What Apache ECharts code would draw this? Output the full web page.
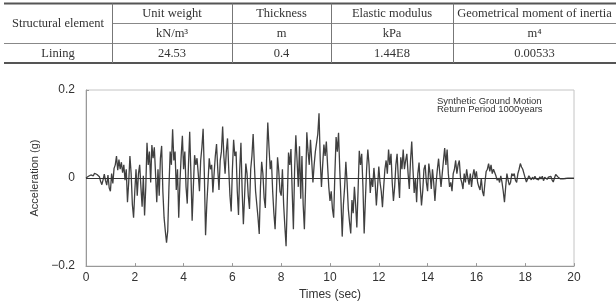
<!DOCTYPE html>
<html>
<head>
<meta charset="utf-8">
<script src="https://cdn.jsdelivr.net/npm/echarts@6/dist/echarts.min.js"></script>
<style>html,body{margin:0;padding:0;background:#fff;}#c{width:616px;height:306px;}</style>
</head>
<body>
<div id="c"></div>
<script>
// ---- Table data ----
const tableHeaders = ['Structural element', 'Unit weight', 'Thickness', 'Elastic modulus', 'Geometrical moment of inertia'];
const tableUnits = ['kN/m\u00B3', 'm', 'kPa', 'm\u2074'];
const tableRow = ['Lining', '24.53', '0.4', '1.44E8', '0.00533'];

// ---- Chart data ----
const xTicks = [0, 2, 4, 6, 8, 10, 12, 14, 16, 18, 20];
const yTicks = [-0.2, 0, 0.2];
const legendLines = ['Synthetic Ground Motion', 'Return Period 1000years'];
const xTitle = 'Times (sec)';
const yTitle = 'Acceleration (g)';
const timeStep = 0.05; // sec between samples
const acceleration = [
  // 0 s
  0.000, 0.002, 0.004, 0.001, 0.007, 0.003, 0.005, 0.011, 0.014, 0.008, 0.012, 0.003, -0.008, -0.015, -0.004, 0.009, -0.006, -0.016, 0.007, -0.022,
  // 1 s
  -0.030, 0.010, -0.012, 0.022, 0.030, 0.050, 0.018, 0.042, 0.020, 0.036, 0.012, 0.030, -0.005, 0.020, -0.055, -0.010, 0.050, 0.010, -0.060, -0.090,
  // 2 s
  -0.030, 0.020, -0.040, 0.010, 0.030, -0.020, -0.065, 0.005, -0.085, -0.020, 0.080, 0.030, 0.060, -0.010, 0.075, 0.045, 0.070, 0.010, -0.055, 0.020,
  // 3 s
  -0.040, 0.045, 0.073, -0.030, -0.090, -0.120, -0.147, -0.120, -0.020, 0.060, 0.030, 0.111, 0.040, 0.060, -0.027, 0.020, -0.090, -0.010, 0.050, 0.096,
  // 4 s
  0.020, 0.060, -0.020, -0.058, 0.030, 0.105, 0.010, -0.097, -0.020, 0.052, 0.030, 0.045, 0.010, -0.030, 0.040, 0.070, 0.112, 0.010, -0.130, -0.060,
  // 5 s
  -0.010, 0.045, 0.020, 0.030, -0.033, 0.010, 0.050, 0.077, 0.020, -0.027, 0.040, 0.060, 0.117, 0.050, 0.010, 0.060, 0.090, 0.020, -0.040, -0.076,
  // 6 s
  0.020, 0.087, 0.050, 0.060, -0.030, -0.084, 0.020, 0.080, -0.030, -0.105, -0.040, 0.033, 0.010, -0.040, -0.070, 0.020, 0.050, 0.100, 0.030, -0.030,
  // 7 s
  -0.060, -0.090, -0.127, -0.020, 0.037, 0.010, -0.045, -0.068, 0.040, 0.126, 0.070, 0.020, 0.040, -0.030, -0.080, -0.116, -0.040, 0.047, 0.016, -0.030,
  // 8 s
  -0.040, 0.020, -0.060, -0.110, -0.155, -0.050, 0.058, 0.030, 0.066, -0.030, -0.116, 0.020, 0.097, 0.040, -0.020, 0.072, -0.047, 0.050, -0.060, -0.116,
  // 9 s
  -0.020, 0.104, 0.060, 0.030, 0.087, 0.040, -0.010, 0.030, 0.060, 0.080, 0.100, 0.147, 0.040, -0.020, 0.030, 0.076, 0.050, 0.083, 0.030, -0.020,
  // 10 s
  -0.052, -0.030, -0.070, -0.090, 0.010, 0.093, 0.060, 0.103, 0.020, -0.050, -0.133, -0.060, -0.020, 0.037, -0.010, -0.070, -0.100, -0.126, -0.050, -0.080,
  // 11 s
  -0.020, -0.060, -0.112, -0.030, 0.062, 0.030, 0.055, -0.020, -0.126, -0.050, 0.020, 0.065, 0.030, -0.034, 0.000, -0.020, 0.023, -0.010, -0.062, -0.020,
  // 12 s
  0.026, -0.010, -0.030, -0.066, -0.020, 0.020, 0.040, 0.010, 0.065, 0.030, 0.055, -0.010, -0.052, -0.020, 0.030, 0.055, 0.000, -0.045, 0.047, 0.020,
  // 13 s
  0.065, 0.020, 0.040, 0.055, 0.010, -0.025, 0.040, 0.083, 0.020, -0.034, 0.000, -0.055, 0.010, 0.035, -0.020, -0.062, -0.030, 0.020, 0.030, -0.010,
  // 14 s
  -0.030, 0.033, 0.010, -0.025, 0.020, -0.010, -0.052, -0.010, 0.020, 0.044, 0.010, -0.020, 0.010, 0.040, 0.068, 0.030, 0.065, 0.010, -0.020, -0.010,
  // 15 s
  -0.030, 0.010, 0.020, 0.040, 0.010, 0.030, 0.040, 0.000, -0.010, -0.025, 0.010, -0.010, 0.020, 0.000, -0.015, 0.010, -0.020, 0.005, 0.020, 0.000,
  // 16 s
  0.015, -0.010, -0.020, -0.027, 0.000, -0.030, -0.041, -0.010, 0.015, 0.020, 0.033, 0.015, 0.030, 0.010, 0.020, 0.023, 0.005, -0.005, 0.000, -0.010,
  // 17 s
  0.005, -0.010, -0.030, -0.055, -0.020, 0.010, -0.005, -0.016, -0.010, 0.010, 0.005, 0.010, -0.005, -0.010, 0.010, 0.020, 0.033, 0.025, 0.020, 0.010,
  // 18 s
  0.000, -0.009, -0.005, 0.005, 0.003, -0.004, 0.002, -0.003, 0.004, -0.002, 0.001, -0.004, 0.003, -0.002, 0.004, -0.006, 0.002, 0.004, -0.003, 0.002,
  // 19 s
  0.001, 0.004, -0.004, -0.009, 0.000, 0.008, 0.006, 0.002, 0.004, -0.002, 0.002, -0.002, 0.001, -0.001, 0.001, 0.000, 0.001, 0.000, 0.000, 0.000,
  // 20 s
  0.000
];

// ---- Build ----
const seriesData = acceleration.map((v, i) => [+(i * timeStep).toFixed(2), v]);

const serif = '"Liberation Serif", "Times New Roman", serif';
const sans = '"Liberation Sans", Arial, sans-serif';
const tableColor = '#333';
const colX = [4, 112, 232, 331, 453, 616];
const rowY = [3.5, 23.5, 43.5, 63];

const graphics = [];
function hline(x1, x2, y, w, c) {
  graphics.push({type: 'line', silent: true, shape: {x1: x1, y1: y, x2: x2, y2: y}, style: {stroke: c, lineWidth: w}});
}
function vline(x, y1, y2) {
  graphics.push({type: 'line', silent: true, shape: {x1: x, y1: y1, x2: x, y2: y2}, style: {stroke: '#777', lineWidth: 1}});
}
function txt(s, x, y, font, align) {
  graphics.push({type: 'text', silent: true, style: {text: s, x: x, y: y, font: font, fill: tableColor, align: align || 'center', verticalAlign: 'middle'}});
}
hline(colX[0], 616, rowY[0], 2, '#555');
hline(colX[1], 616, rowY[1], 1, '#888');
hline(colX[0], 616, rowY[2], 1, '#888');
hline(colX[0], 616, rowY[3], 2, '#555');
for (let i = 1; i < 5; i++) vline(colX[i] + 0.5, rowY[0], rowY[3]);

const tFont = '12.5px ' + serif;
txt(tableHeaders[0], (colX[0] + colX[1]) / 2, (rowY[0] + rowY[2]) / 2, tFont);
for (let i = 1; i < 5; i++) {
  const cx = (colX[i] + colX[i + 1]) / 2;
  txt(tableHeaders[i], cx, (rowY[0] + rowY[1]) / 2, tFont);
  txt(tableUnits[i - 1], cx, (rowY[1] + rowY[2]) / 2, tFont);
}
for (let i = 0; i < 5; i++) {
  txt(tableRow[i], (colX[i] + colX[i + 1]) / 2, (rowY[2] + rowY[3]) / 2, tFont);
}
graphics.push({type: 'text', silent: true, style: {text: legendLines[0], x: 437, y: 101, font: '9.5px ' + sans, fill: '#333', align: 'left', verticalAlign: 'middle'}});
graphics.push({type: 'text', silent: true, style: {text: legendLines[1], x: 437, y: 109, font: '9.5px ' + sans, fill: '#333', align: 'left', verticalAlign: 'middle'}});

const chart = echarts.init(document.getElementById('c'), null, {renderer: 'canvas'});
chart.setOption({
  animation: false,
  backgroundColor: '#fff',
  grid: {left: 86, right: 42, top: 90, bottom: 28, show: true, borderColor: '#c4c4c4', borderWidth: 1},
  xAxis: {
    type: 'value', min: xTicks[0], max: xTicks[xTicks.length - 1], interval: 2,
    name: xTitle, nameLocation: 'middle', nameGap: 18,
    nameTextStyle: {fontFamily: sans, fontSize: 12, color: '#333'},
    axisLine: {onZero: false, lineStyle: {color: '#999', width: 1}},
    axisTick: {inside: true, length: 3, lineStyle: {color: '#999'}},
    axisLabel: {fontFamily: sans, fontSize: 12, color: '#333', margin: 6},
    splitLine: {show: false}
  },
  yAxis: {
    type: 'value', min: yTicks[0], max: yTicks[yTicks.length - 1], interval: 0.2,
    name: yTitle, nameLocation: 'middle', nameGap: 37, nameRotate: 90,
    nameTextStyle: {fontFamily: sans, fontSize: 11, color: '#333'},
    axisLine: {show: true, onZero: false, lineStyle: {color: '#999', width: 1}},
    axisTick: {inside: true, length: 3, lineStyle: {color: '#999'}},
    axisLabel: {fontFamily: sans, fontSize: 12, color: '#333', margin: 11,
      formatter: v => Math.abs(v) < 1e-9 ? '0' : (v < 0 ? '\u2212' + Math.abs(v).toFixed(1) : v.toFixed(1))},
    splitLine: {show: false}
  },
  series: [{
    type: 'line', data: seriesData, showSymbol: false, sampling: null,
    lineStyle: {color: '#404040', width: 1.3},
    markLine: {silent: true, symbol: 'none', label: {show: false},
      lineStyle: {color: '#333', width: 1, type: 'solid'}, data: [{yAxis: 0}]}
  }],
  graphic: graphics
});
</script>
</body>
</html>
